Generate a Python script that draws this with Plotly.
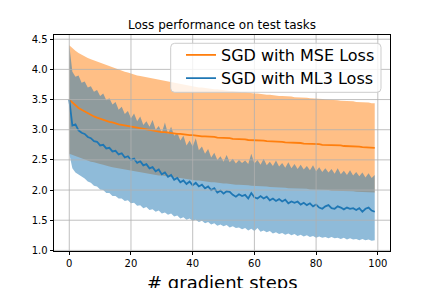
import plotly.graph_objects as go

steps = list(range(100))

mse_mean = [3.50, 3.45, 3.40, 3.36, 3.33, 3.30, 3.27, 3.25, 3.22, 3.20,
            3.18, 3.17, 3.15, 3.13, 3.12, 3.10, 3.09, 3.08, 3.07, 3.06,
            3.05, 3.04, 3.03, 3.02, 3.01, 3.00, 2.99, 2.99, 2.98, 2.97,
            2.96, 2.96, 2.95, 2.95, 2.94, 2.93, 2.93, 2.92, 2.92, 2.91,
            2.91, 2.90, 2.90, 2.89, 2.89, 2.89, 2.88, 2.88, 2.87, 2.87,
            2.86, 2.86, 2.86, 2.85, 2.85, 2.85, 2.84, 2.84, 2.83, 2.83,
            2.83, 2.82, 2.82, 2.82, 2.81, 2.81, 2.81, 2.80, 2.80, 2.80,
            2.79, 2.79, 2.79, 2.78, 2.78, 2.78, 2.77, 2.77, 2.77, 2.76,
            2.76, 2.76, 2.75, 2.75, 2.75, 2.74, 2.74, 2.74, 2.74, 2.73,
            2.73, 2.73, 2.72, 2.72, 2.72, 2.71, 2.71, 2.71, 2.70, 2.70]

mse_upper = [4.40, 4.35, 4.31, 4.27, 4.24, 4.21, 4.19, 4.17, 4.15, 4.13,
             4.11, 4.09, 4.07, 4.05, 4.03, 4.01, 4.00, 3.98, 3.96, 3.95,
             3.93, 3.92, 3.90, 3.89, 3.88, 3.86, 3.85, 3.84, 3.83, 3.82,
             3.81, 3.80, 3.79, 3.78, 3.77, 3.76, 3.75, 3.74, 3.73, 3.72,
             3.72, 3.71, 3.70, 3.70, 3.69, 3.68, 3.68, 3.67, 3.67, 3.66,
             3.65, 3.65, 3.64, 3.64, 3.63, 3.63, 3.62, 3.62, 3.61, 3.61,
             3.60, 3.60, 3.59, 3.59, 3.58, 3.58, 3.57, 3.57, 3.56, 3.56,
             3.56, 3.55, 3.55, 3.54, 3.54, 3.53, 3.53, 3.53, 3.52, 3.52,
             3.51, 3.51, 3.51, 3.50, 3.50, 3.49, 3.49, 3.49, 3.48, 3.48,
             3.47, 3.47, 3.47, 3.46, 3.46, 3.45, 3.45, 3.45, 3.44, 3.44]

mse_lower = [2.60, 2.58, 2.56, 2.54, 2.52, 2.50, 2.49, 2.47, 2.46, 2.44,
             2.43, 2.42, 2.40, 2.39, 2.38, 2.37, 2.36, 2.35, 2.34, 2.33,
             2.32, 2.31, 2.30, 2.29, 2.28, 2.27, 2.27, 2.26, 2.25, 2.24,
             2.24, 2.23, 2.22, 2.22, 2.21, 2.20, 2.20, 2.19, 2.18, 2.18,
             2.17, 2.16, 2.16, 2.15, 2.15, 2.14, 2.13, 2.13, 2.12, 2.12,
             2.11, 2.11, 2.10, 2.10, 2.09, 2.09, 2.09, 2.08, 2.08, 2.07,
             2.07, 2.07, 2.06, 2.06, 2.06, 2.05, 2.05, 2.05, 2.04, 2.04,
             2.04, 2.03, 2.03, 2.03, 2.02, 2.02, 2.02, 2.02, 2.01, 2.01,
             2.01, 2.00, 2.00, 2.00, 2.00, 1.99, 1.99, 1.99, 1.99, 1.98,
             1.98, 1.98, 1.98, 1.97, 1.97, 1.97, 1.97, 1.97, 1.96, 1.96]

ml3_mean = [3.50, 3.07, 3.09, 2.99, 2.95, 2.93, 2.88, 2.86, 2.81, 2.80,
            2.74, 2.75, 2.69, 2.70, 2.64, 2.65, 2.59, 2.61, 2.54, 2.56,
            2.50, 2.52, 2.45, 2.48, 2.41, 2.43, 2.36, 2.38, 2.31, 2.34,
            2.26, 2.29, 2.22, 2.25, 2.17, 2.20, 2.13, 2.16, 2.10, 2.14,
            2.08, 2.12, 2.06, 2.09, 2.03, 2.06, 2.00, 2.03, 1.96, 1.99,
            1.94, 1.98, 1.97, 1.92, 1.89, 1.93, 1.90, 1.92, 1.86, 1.95,
            1.88, 1.86, 1.90, 1.86, 1.89, 1.83, 1.86, 1.82, 1.85, 1.81,
            1.84, 1.78, 1.81, 1.79, 1.81, 1.76, 1.79, 1.75, 1.78, 1.73,
            1.76, 1.71, 1.69, 1.73, 1.75, 1.70, 1.69, 1.73, 1.71, 1.68,
            1.71, 1.69, 1.70, 1.67, 1.70, 1.64, 1.69, 1.71, 1.66, 1.64]

ml3_upper = [4.40, 3.96, 3.88, 3.90, 3.78, 3.80, 3.70, 3.72, 3.63, 3.66,
             3.56, 3.60, 3.49, 3.52, 3.42, 3.46, 3.33, 3.38, 3.26, 3.31,
             3.19, 3.27, 3.14, 3.22, 3.08, 3.14, 3.05, 3.16, 3.00, 3.06,
             2.95, 3.12, 2.93, 3.05, 2.90, 2.95, 2.82, 2.90, 2.74, 2.82,
             2.72, 2.86, 2.66, 2.72, 2.60, 2.68, 2.54, 2.62, 2.50, 2.56,
             2.47, 2.58, 2.46, 2.52, 2.44, 2.50, 2.45, 2.49, 2.43, 2.60,
             2.44, 2.50, 2.42, 2.52, 2.41, 2.47, 2.40, 2.49, 2.39, 2.45,
             2.37, 2.46, 2.36, 2.43, 2.35, 2.42, 2.34, 2.40, 2.33, 2.41,
             2.31, 2.38, 2.30, 2.36, 2.29, 2.35, 2.27, 2.36, 2.26, 2.32,
             2.25, 2.33, 2.24, 2.30, 2.23, 2.29, 2.21, 2.28, 2.20, 2.25]

ml3_lower = [2.60, 2.36, 2.29, 2.26, 2.22, 2.19, 2.14, 2.12, 2.07, 2.06,
             2.01, 2.00, 1.95, 1.95, 1.90, 1.90, 1.86, 1.86, 1.82, 1.83,
             1.78, 1.79, 1.74, 1.75, 1.70, 1.72, 1.67, 1.68, 1.64, 1.66,
             1.61, 1.63, 1.59, 1.61, 1.56, 1.58, 1.53, 1.55, 1.51, 1.53,
             1.49, 1.51, 1.47, 1.49, 1.45, 1.47, 1.43, 1.45, 1.41, 1.43,
             1.40, 1.42, 1.38, 1.40, 1.37, 1.38, 1.35, 1.37, 1.33, 1.36,
             1.32, 1.37, 1.31, 1.33, 1.30, 1.32, 1.28, 1.30, 1.27, 1.29,
             1.26, 1.28, 1.25, 1.27, 1.24, 1.26, 1.23, 1.25, 1.22, 1.24,
             1.21, 1.23, 1.21, 1.22, 1.20, 1.22, 1.20, 1.21, 1.19, 1.21,
             1.18, 1.20, 1.18, 1.19, 1.17, 1.19, 1.17, 1.18, 1.16, 1.17]

x_ticks = [0, 20, 40, 60, 80, 100]
y_ticks = [1.0, 1.5, 2.0, 2.5, 3.0, 3.5, 4.0, 4.5]
y_tick_labels = ["1.0", "1.5", "2.0", "2.5", "3.0", "3.5", "4.0", "4.5"]

title_text = "Loss performance on test tasks"
x_label = "# gradient steps"
mse_name = "SGD with MSE Loss"
ml3_name = "SGD with ML3 Loss"

ORANGE = "#ff7f0e"
BLUE = "#1f77b4"
FONT = "DejaVu Sans"

fig = go.Figure()

# MSE band
fig.add_trace(go.Scatter(x=steps, y=mse_lower, mode="lines", line=dict(width=0),
                         showlegend=False, hoverinfo="skip"))
fig.add_trace(go.Scatter(x=steps, y=mse_upper, mode="lines", line=dict(width=0),
                         fill="tonexty", fillcolor="rgba(255,127,14,0.5)",
                         showlegend=False, hoverinfo="skip"))
# ML3 band
fig.add_trace(go.Scatter(x=steps, y=ml3_lower, mode="lines", line=dict(width=0),
                         showlegend=False, hoverinfo="skip"))
fig.add_trace(go.Scatter(x=steps, y=ml3_upper, mode="lines", line=dict(width=0),
                         fill="tonexty", fillcolor="rgba(31,119,180,0.5)",
                         showlegend=False, hoverinfo="skip"))
# Mean lines (each in its own legend so rows can be spaced like the reference)
fig.add_trace(go.Scatter(x=steps, y=mse_mean, mode="lines", name=mse_name,
                         line=dict(color=ORANGE, width=1.8), legend="legend"))
fig.add_trace(go.Scatter(x=steps, y=ml3_mean, mode="lines", name=ml3_name,
                         line=dict(color=BLUE, width=1.8), legend="legend2"))

# grid lines drawn above the fills (like matplotlib)
shapes = []
for xv in x_ticks:
    shapes.append(dict(type="line", xref="x", yref="y domain", x0=xv, x1=xv, y0=0, y1=1,
                       line=dict(color="#b0b0b0", width=0.8), layer="above"))
for yv in y_ticks:
    shapes.append(dict(type="line", xref="x domain", yref="y", x0=0, x1=1, y0=yv, y1=yv,
                       line=dict(color="#b0b0b0", width=0.8), layer="above"))

# legend frame (rounded, semi-transparent white like matplotlib)
lx0, lx1, ly0, ly1 = 0.3473, 0.9732, 0.7347, 0.9616
rx, ry = 4 / 336, 4 / 216
frame_path = (f"M {lx0+rx} {ly0} L {lx1-rx} {ly0} Q {lx1} {ly0} {lx1} {ly0+ry} "
              f"L {lx1} {ly1-ry} Q {lx1} {ly1} {lx1-rx} {ly1} "
              f"L {lx0+rx} {ly1} Q {lx0} {ly1} {lx0} {ly1-ry} "
              f"L {lx0} {ly0+ry} Q {lx0} {ly0} {lx0+rx} {ly0} Z")
shapes.append(dict(type="path", xref="paper", yref="paper", path=frame_path,
                   fillcolor="rgba(255,255,255,0.8)", line=dict(color="#cccccc", width=1),
                   layer="above"))

axis_common = dict(
    showgrid=False, zeroline=False,
    showline=True, linecolor="black", linewidth=0.8, mirror=True,
    ticks="outside", ticklen=3.5, tickwidth=0.8, tickcolor="black",
    tickfont=dict(family=FONT, size=10, color="black"),
)

legend_common = dict(xanchor="left", yanchor="middle",
                     bgcolor="rgba(0,0,0,0)", borderwidth=0,
                     font=dict(family=FONT, size=16, color="black"))

fig.update_layout(
    width=432, height=288,
    margin=dict(l=54, r=42, t=35, b=37, autoexpand=False),
    paper_bgcolor="white", plot_bgcolor="white",
    font=dict(family=FONT, color="black"),
    title=dict(text=title_text, x=0.5, xref="paper", xanchor="center",
               y=1 - 25.0 / 288, yref="container", yanchor="middle",
               font=dict(family=FONT, size=12, color="black")),
    xaxis=dict(range=[-4.95, 103.95], tickmode="array", tickvals=x_ticks, **axis_common),
    yaxis=dict(range=[0.99, 4.57], tickmode="array", tickvals=y_ticks,
               ticktext=y_tick_labels, **axis_common),
    legend=dict(x=0.378, y=(251 - 55) / 216, **legend_common),
    legend2=dict(x=0.378, y=(251 - 78.3) / 216, **legend_common),
    shapes=shapes,
    annotations=[dict(text=x_label, xref="paper", yref="paper", x=0.5, y=-0.1468,
                      xanchor="center", yanchor="middle", showarrow=False,
                      font=dict(family=FONT, size=18, color="black"))],
    showlegend=True,
)

fig.write_html("out.html", config={"displayModeBar": False},
               post_script="document.body.style.margin='0px';document.body.style.overflow='hidden';")
